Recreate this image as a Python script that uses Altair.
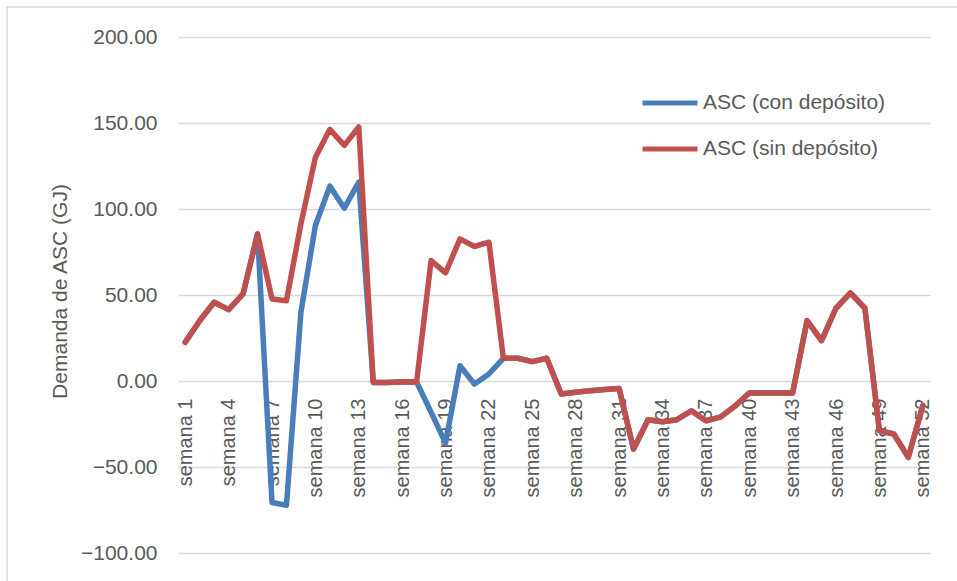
import altair as alt
import pandas as pd

# Weekly demand, in GJ
semanas = [f"semana {i}" for i in range(1, 53)]

sin_deposito = [
    22.5, 35, 45.8, 41.5, 50.6, 85.5, 47.7, 46.7, 91.4, 130, 146.3, 137, 147.7,
    -0.8, -0.9, -0.5, -0.6,
    70, 62.9, 82.6, 78.2, 80.7,
    13.2, 13.2, 11.3, 13.2,
    -7.6, -6.6, -5.6, -5, -4.3,
    -39.6, -22.5, -23.7, -22.5, -17.3, -23.1, -21, -14.7, -7, -7, -7, -7,
    35.1, 23.5, 42.3, 51.2, 42.3, -28.9, -30.8, -44.4, -14.4,
]

con_deposito = [
    22.5, 35, 45.8, 41.5, 50.6, 85.5, -70.6, -72.2, 40, 90.4, 113.3, 100.5, 115.6,
    -0.8, -0.9, -0.5, -0.6,
    -18.2, -36.1, 8.9, -1.7, 4.1,
    13.2, 13.2, 11.3, 13.2,
    -7.6, -6.6, -5.6, -5, -4.3,
    -39.6, -22.5, -23.7, -22.5, -17.3, -23.1, -21, -14.7, -7, -7, -7, -7,
    35.1, 23.5, 42.3, 51.2, 42.3, -28.9, -30.8, -44.4, -14.4,
]

series_names = ["ASC (con depósito)", "ASC (sin depósito)"]
series_colors = ["#4a7ebb", "#c0504d"]
tick_weeks = semanas[::3]

df = pd.DataFrame(
    {
        "semana": semanas * 2,
        "demanda": con_deposito + sin_deposito,
        "serie": [series_names[0]] * len(semanas) + [series_names[1]] * len(semanas),
    }
)

FONT = "Liberation Sans"
GREY = "#595959"
GRID = "#d9d9d9"

W, H = 752, 516
PAD_L, PAD_T = 178, 37

lines = (
    alt.Chart(df)
    .mark_line(strokeWidth=5.5, strokeJoin="round", strokeCap="round")
    .encode(
        x=alt.X(
            "semana:O",
            sort=semanas,
            scale=alt.Scale(type="point", padding=0.5),
            axis=alt.Axis(
                values=tick_weeks,
                labelAngle=270,
                labelFontSize=20,
                labelFont=FONT,
                labelColor=GREY,
                labelPadding=16,
                labelOverlap=False,
                ticks=False,
                domain=False,
                grid=False,
                title=None,
                offset=-171,
            ),
        ),
        y=alt.Y(
            "demanda:Q",
            scale=alt.Scale(domain=[-100, 200], nice=False),
            axis=alt.Axis(
                values=[-100, -50, 0, 50, 100, 150, 200],
                format=".2f",
                grid=True,
                gridColor=GRID,
                gridWidth=1.5,
                domain=False,
                ticks=False,
                labelFontSize=21,
                labelFont=FONT,
                labelColor=GREY,
                labelPadding=21,
                title="Demanda de ASC (GJ)",
                titleFont=FONT,
                titleFontSize=21,
                titleFontWeight="normal",
                titleColor=GREY,
                titleX=-108,
                titleY=254,
            ),
        ),
        color=alt.Color(
            "serie:N",
            scale=alt.Scale(domain=series_names, range=series_colors),
            legend=alt.Legend(
                title=None,
                orient="none",
                legendX=462,
                legendY=46,
                symbolType="stroke",
                symbolSize=3025,
                symbolStrokeWidth=5,
                labelFont=FONT,
                labelFontSize=21,
                labelColor=GREY,
                labelOffset=3,
                labelLimit=400,
                clipHeight=40,
                rowPadding=6,
                padding=0,
            ),
        ),
    )
)

# light outer frame around the chart area
frame = (
    alt.Chart(alt.Data(values=[{}]))
    .mark_rect(filled=False, stroke=GRID, strokeWidth=1.5)
    .encode(
        x=alt.value(-171),
        x2=alt.value(800),
        y=alt.value(-30),
        y2=alt.value(570),
    )
)

chart = (
    alt.layer(frame, lines)
    .properties(
        width=W,
        height=H,
        autosize=alt.AutoSizeParams(type="none"),
        padding={"left": PAD_L, "top": PAD_T, "right": 957 - PAD_L - W, "bottom": 581 - PAD_T - H},
        background="white",
    )
    .configure_view(stroke=None)
)

chart.save("out.html", embed_options={"renderer": "svg", "actions": False})
